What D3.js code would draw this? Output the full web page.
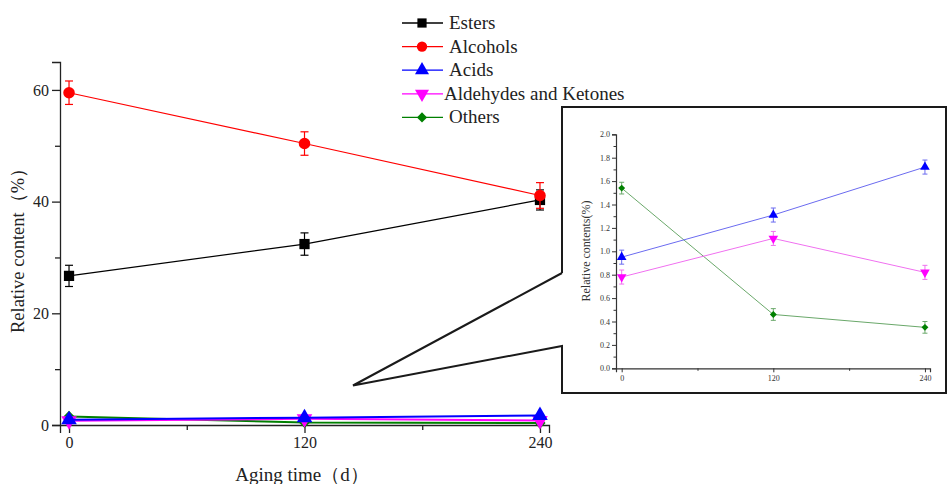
<!DOCTYPE html>
<html><head><meta charset="utf-8">
<script src="https://cdn.jsdelivr.net/npm/d3@7"></script>
<style>
html,body{margin:0;padding:0;background:#fff;}
svg{display:block;}
svg text{font-family:"Liberation Serif","Times New Roman",serif;}
</style></head>
<body><svg id="chart" width="948" height="484"></svg>
<script>
const days = [0, 120, 240];
const categories = ["Esters", "Alcohols", "Acids", "Aldehydes and Ketones", "Others"];
const esters = [26.7, 32.4, 40.3];
const estersErr = [1.9, 2.0, 1.8];
const alcohols = [59.5, 50.4, 41.1];
const alcoholsErr = [2.1, 2.1, 2.3];
const acids = [0.95, 1.31, 1.72];
const acidsErr = [0.06, 0.06, 0.06];
const aldehydes = [0.78, 1.11, 0.82];
const aldehydesErr = [0.06, 0.06, 0.06];
const others = [1.54, 0.46, 0.35];
const othersErr = [0.05, 0.05, 0.05];
const mainYTicks = [0, 20, 40, 60];
const insetYTicks = [0, 0.2, 0.4, 0.6, 0.8, 1.0, 1.2, 1.4, 1.6, 1.8, 2.0];
const xTicks = [0, 120, 240];

const colors = ["#000000", "#ff0000", "#0000ff", "#ff00ff", "#008000"];
const insetLineColors = ["#000", "#f00", "#6b6bf0", "#f070f0", "#6aa86a"];
const symbols = [d3.symbolSquare, d3.symbolCircle, d3.symbolTriangle, d3.symbolTriangle, d3.symbolSquare];
const rotations = [0, 0, 0, 180, 45];
const sizeScale = [1, 1, 1, 1, 0.6];
const values = [esters, alcohols, acids, aldehydes, others];
const errors = [estersErr, alcoholsErr, acidsErr, aldehydesErr, othersErr];

const series = categories.map((name, i) => ({
  name, color: colors[i], symbol: symbols[i], rot: rotations[i], k: sizeScale[i],
  pts: days.map((d, j) => ({x: d, y: values[i][j], e: errors[i][j]}))
}));

const svg = d3.select("#chart");
const SERIF = "'Liberation Serif','Times New Roman',serif";

// ---------- main chart ----------
const mx = d3.scaleLinear().domain([-4.6, 244.6]).range([60, 549]);
const my = d3.scaleLinear().domain([0, 65]).range([425, 62]);
const main = svg.append("g");

const yAxis = d3.axisLeft(my).tickValues(mainYTicks).tickSize(8).tickPadding(3).tickFormat(d3.format("d"));
const yMinor = d3.axisLeft(my).tickValues([10, 30, 50]).tickSize(5).tickFormat("");
const xAxis = d3.axisBottom(mx).tickValues(xTicks).tickSize(8).tickPadding(4).tickFormat(d3.format("d"));
const xMinor = d3.axisBottom(mx).tickValues([60, 180]).tickSize(5).tickFormat("");

function styleAxis(g, fs) {
  g.selectAll("path.domain").attr("stroke", "#222").attr("stroke-width", 1.3);
  g.selectAll(".tick line").attr("stroke", "#222").attr("stroke-width", 1.3);
  g.selectAll(".tick text").attr("fill", "#222").style("font-size", fs + "px").style("font-family", SERIF);
}
main.append("g").attr("transform", "translate(60,0)").call(yAxis).call(g => styleAxis(g, 16));
main.append("g").attr("transform", "translate(60,0)").call(yMinor).call(g => styleAxis(g, 16)).select(".domain").remove();
main.append("g").attr("transform", "translate(0,425)").call(xAxis).call(g => styleAxis(g, 16));
main.append("g").attr("transform", "translate(0,425)").call(xMinor).call(g => styleAxis(g, 16)).select(".domain").remove();

main.append("text").attr("x", 302).attr("y", 481).attr("text-anchor", "middle")
  .style("font-size", "19px").style("font-family", SERIF).attr("fill", "#222").text("Aging time（d）");
main.append("text").attr("transform", "translate(24,246) rotate(-90)").attr("text-anchor", "middle")
  .style("font-size", "18.5px").style("font-family", SERIF).attr("fill", "#222").text("Relative content（%）");

const mline = d3.line().x(d => mx(d.x)).y(d => my(d.y));
const order = [4, 3, 2, 0, 1];
order.forEach(i => {
  const s = series[i];
  const g = main.append("g");
  g.append("path").attr("d", mline(s.pts)).attr("fill", "none").attr("stroke", s.color)
    .attr("stroke-width", i >= 2 ? 2 : 1.2);
  s.pts.forEach(p => {
    const x = mx(p.x), y1 = my(p.y + p.e), y2 = my(p.y - p.e);
    g.append("line").attr("x1", x).attr("x2", x).attr("y1", y1).attr("y2", y2).attr("stroke", s.color).attr("stroke-width", 1.2);
    [y1, y2].forEach(yy => g.append("line").attr("x1", x - 4).attr("x2", x + 4).attr("y1", yy).attr("y2", yy).attr("stroke", s.color).attr("stroke-width", 1.2));
    g.append("path").attr("d", d3.symbol().type(s.symbol).size(105 * s.k)())
      .attr("transform", `translate(${x},${my(p.y)}) rotate(${s.rot})`).attr("fill", s.color);
  });
});

// ---------- legend ----------
const lg = svg.append("g");
series.forEach((s, i) => {
  const y = 23 + i * 23.6;
  lg.append("line").attr("x1", 402).attr("x2", 443).attr("y1", y).attr("y2", y).attr("stroke", s.color).attr("stroke-width", 1.3);
  lg.append("path").attr("d", d3.symbol().type(s.symbol).size(85 * s.k)())
    .attr("transform", `translate(422,${y}) rotate(${s.rot})`).attr("fill", s.color);
  lg.append("text").attr("x", i === 3 ? 444 : 449).attr("y", y + 6).style("font-size", "19px")
    .style("font-family", SERIF).attr("fill", "#222").text(s.name);
});

// ---------- inset frame with callout ----------
const L = 562, T = 107, R = 946, B = 393;
const frame = [[L, 273], [L, T], [R, T], [R, B], [L, B], [L, 346], [353, 385.5], [L, 273]];
svg.append("path").attr("d", d3.line()(frame)).attr("fill", "#fff").attr("stroke", "#1a1a1a")
  .attr("stroke-width", 2).attr("stroke-linejoin", "miter");

// ---------- inset chart ----------
const ix = d3.scaleLinear().domain([-4.5, 244]).range([616, 930]);
const iy = d3.scaleLinear().domain([0, 2.0]).range([368.3, 134.3]);
const inset = svg.append("g");
const iyAxis = d3.axisLeft(iy).tickValues(insetYTicks).tickSize(4).tickPadding(2).tickFormat(d3.format(".1f"));
const iyMinor = d3.axisLeft(iy).tickValues(d3.range(0.1, 2.0, 0.2)).tickSize(2.5).tickFormat("");
const ixAxis = d3.axisBottom(ix).tickValues(xTicks).tickSize(4).tickPadding(3).tickFormat(d3.format("d"));
const ixMinor = d3.axisBottom(ix).tickValues([60, 180]).tickSize(2.5).tickFormat("");
function styleInset(g) {
  g.selectAll("path.domain").attr("stroke", "#333").attr("stroke-width", 1.2);
  g.selectAll(".tick line").attr("stroke", "#333").attr("stroke-width", 1);
  g.selectAll(".tick text").attr("fill", "#333").style("font-size", "8px").style("font-family", SERIF);
}
inset.append("g").attr("transform", "translate(616,0)").call(iyAxis).call(styleInset);
inset.append("g").attr("transform", "translate(616,0)").call(iyMinor).call(styleInset).select(".domain").remove();
inset.append("g").attr("transform", "translate(0,368.3)").call(ixAxis).call(styleInset);
inset.append("g").attr("transform", "translate(0,368.3)").call(ixMinor).call(styleInset).select(".domain").remove();
inset.append("text").attr("transform", "translate(590,251) rotate(-90)").attr("text-anchor", "middle")
  .style("font-size", "12px").style("font-family", SERIF).attr("fill", "#333").text("Relative contents(%)");

const iline = d3.line().x(d => ix(d.x)).y(d => iy(d.y));
[4, 3, 2].forEach(i => {
  const s = series[i];
  const g = inset.append("g");
  g.append("path").attr("d", iline(s.pts)).attr("fill", "none").attr("stroke", insetLineColors[i]).attr("stroke-width", 1);
  s.pts.forEach(p => {
    const x = ix(p.x), y1 = iy(p.y + p.e), y2 = iy(p.y - p.e);
    g.append("line").attr("x1", x).attr("x2", x).attr("y1", y1).attr("y2", y2).attr("stroke", insetLineColors[i]).attr("stroke-width", 1);
    [y1, y2].forEach(yy => g.append("line").attr("x1", x - 2.5).attr("x2", x + 2.5).attr("y1", yy).attr("y2", yy).attr("stroke", insetLineColors[i]).attr("stroke-width", 1));
    g.append("path").attr("d", d3.symbol().type(s.symbol).size(40 * s.k)())
      .attr("transform", `translate(${x},${iy(p.y)}) rotate(${s.rot})`).attr("fill", s.color);
  });
});
</script></body></html>
